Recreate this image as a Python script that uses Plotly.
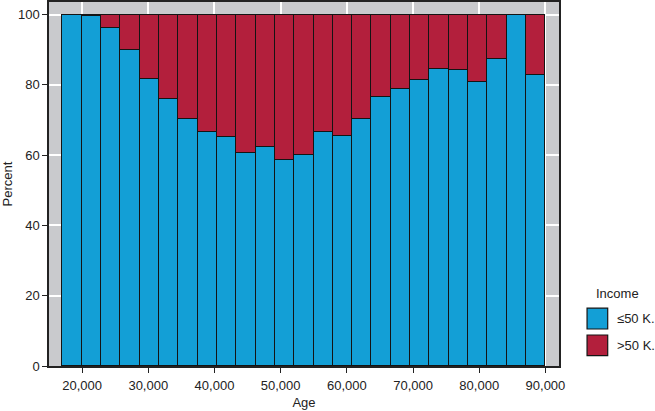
import plotly.graph_objects as go

age_centers = [18460, 21380, 24300, 27220, 30140, 33060, 35980, 38900, 41820, 44740,
               47660, 50580, 53500, 56420, 59340, 62260, 65180, 68100, 71020, 73940,
               76860, 79780, 82700, 85620, 88540]
bin_width = 2920
pct_le50 = [100.0, 99.7, 96.3, 89.8, 81.6, 76.1, 70.2, 66.5, 65.1, 60.7,
            62.2, 58.5, 60.0, 66.5, 65.4, 70.2, 76.5, 78.8, 81.3, 84.5,
            84.3, 80.9, 87.5, 100.0, 82.8]
pct_gt50 = [0.0, 0.3, 3.7, 10.2, 18.4, 23.9, 29.8, 33.5, 34.9, 39.3,
            37.8, 41.5, 40.0, 33.5, 34.6, 29.8, 23.5, 21.2, 18.7, 15.5,
            15.7, 19.1, 12.5, 0.0, 17.2]
series_names = ["≤50 K.", ">50 K."]
colors = ["#139fd6", "#b31f3c"]
x_ticks = [20000, 30000, 40000, 50000, 60000, 70000, 80000, 90000]
x_ticklabels = ["20,000", "30,000", "40,000", "50,000", "60,000", "70,000", "80,000", "90,000"]
y_ticks = [0, 20, 40, 60, 80, 100]

FONT = "Liberation Sans, Arial, Helvetica, sans-serif"

fig = go.Figure()
for name, vals, col in zip(series_names, [pct_le50, pct_gt50], colors):
    fig.add_trace(go.Bar(
        x=age_centers, y=vals, width=[bin_width] * len(age_centers), name=name,
        marker=dict(color=col, line=dict(color="#141414", width=1.2)),
        showlegend=False,
    ))

fig.update_layout(
    width=655, height=411,
    margin=dict(l=49, r=96, t=2, b=45),
    barmode="stack", bargap=0,
    plot_bgcolor="#c9cacd", paper_bgcolor="white",
    font=dict(family=FONT, size=13, color="#222222"),
    xaxis=dict(
        range=[15000, 92050], tickvals=x_ticks, ticktext=x_ticklabels,
        showgrid=True, gridcolor="white", gridwidth=1.5,
        showline=True, linecolor="#222222", linewidth=1.5, mirror=True,
        ticks="outside", ticklen=5, tickcolor="#222222", tickwidth=1,
        ticklabelstandoff=2,
        zeroline=False,
        title=dict(text="Age", standoff=6, font=dict(size=13)),
        automargin=False,
    ),
    yaxis=dict(
        range=[0, 103.6], tickvals=y_ticks,
        showgrid=True, gridcolor="white", gridwidth=1.5,
        showline=True, linecolor="#222222", linewidth=1.5, mirror=True,
        ticks="outside", ticklen=5, tickcolor="#222222", tickwidth=1,
        zeroline=False,
        title=dict(text="Percent", standoff=8, font=dict(size=13)),
        automargin=False,
    ),
)

# manual legend with larger swatches
fig.add_annotation(xref="paper", yref="paper", x=1.068, y=0.2005, text="Income",
                   showarrow=False, xanchor="left", yanchor="middle",
                   font=dict(size=13, color="#222222"))
boxes = [(0.159, 0.1016), (0.0852, 0.0283)]
for (top, bot), col, name in zip(boxes, colors, series_names):
    fig.add_shape(type="rect", xref="paper", yref="paper", x0=1.055, x1=1.0955,
                  y0=bot, y1=top, fillcolor=col, line=dict(color="#141414", width=1.2))
    fig.add_annotation(xref="paper", yref="paper", x=1.11, y=(top + bot) / 2, text=name,
                       showarrow=False, xanchor="left", yanchor="middle",
                       font=dict(size=13, color="#222222"))

fig.write_html("out.html")
